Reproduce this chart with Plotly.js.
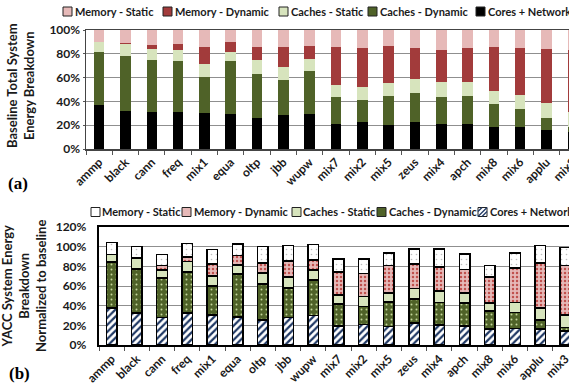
<!DOCTYPE html>
<html>
<head>
<meta charset="utf-8">
<script src="https://cdn.plot.ly/plotly-3.0.1.min.js"></script>
<style>
  html, body { margin: 0; padding: 0; overflow: hidden; background: #fff; }
  #chart { width: 600px; height: 390px; }
</style>
</head>
<body>
<div id="chart"></div>
<script>
// Workloads on the category axis
const benchmarks = ['ammp','black','cann','freq','mix1','equa','oltp','jbb','wupw','mix7','mix2','mix5','zeus','mix4','apch','mix8','mix6','applu','mix3'];

// Series names, bottom of the stack first
const seriesNames = ['Cores + Network','Caches - Dynamic','Caches - Static','Memory - Dynamic','Memory - Static'];

// (a) Baseline breakdown, % of total system energy
const baseCores    = [37.0,31.9,31.4,31.4,30.5,29.4,25.8,28.9,29.4,21.0,23.0,20.4,23.0,21.0,21.0,18.8,18.2,16.0,14.6];
const baseCacheDyn = [44.2,46.5,43.1,42.6,30.3,44.6,37.5,29.4,36.4,22.4,18.2,24.1,23.8,22.7,23.3,18.7,15.7,10.0,3.6];
const baseCacheSta = [8.4,9.6,9.5,9.2,10.9,7.2,11.5,10.9,9.6,10.4,11.2,10.7,11.7,12.9,11.7,11.0,11.5,12.4,12.6];
const baseMemDyn   = [0.3,0.8,3.1,5.0,14.3,8.4,10.6,16.2,11.2,32.2,32.2,31.4,26.1,26.3,28.6,37.2,39.2,45.6,52.1];
const baseMemSta   = [10.1,11.2,12.9,11.8,14.0,10.4,14.6,14.6,13.4,14.0,15.4,13.4,15.4,17.1,15.4,14.3,15.4,16.0,17.1];

// (b) YACC breakdown, % of the baseline total
const yaccCores    = [37.4,32.3,28.2,32.3,30.6,28.6,25.5,28.2,29.9,19.4,20.7,19.0,22.4,20.4,19.4,16.3,17.0,16.3,14.3];
const yaccCacheDyn = [46.9,45.2,39.8,41.8,29.2,43.5,36.4,29.6,36.0,22.4,18.7,24.5,24.2,22.8,23.4,18.4,16.3,8.9,3.4];
const yaccCacheSta = [7.5,10.9,8.5,10.9,10.2,9.5,11.2,11.4,10.2,9.2,9.9,9.2,10.8,11.9,9.9,8.1,9.9,12.2,12.9];
const yaccMemDyn   = [0.2,0.7,4.1,4.7,12.3,9.2,10.2,16.1,10.2,23.4,23.4,27.9,24.9,24.1,24.1,26.5,35.0,45.9,50.3];
const yaccMemSta   = [12.3,11.2,11.5,13.6,14.6,11.9,17.0,16.0,15.7,13.3,15.0,12.9,15.3,18.4,15.7,11.6,15.3,18.0,18.4];

const yTicksA = [0, 20, 40, 60, 80, 100];
const yTicksB = [0, 20, 40, 60, 80, 100, 120];
const pct = v => v + '%';

const baseSeries = [baseCores, baseCacheDyn, baseCacheSta, baseMemDyn, baseMemSta];
const yaccSeries = [yaccCores, yaccCacheDyn, yaccCacheSta, yaccMemDyn, yaccMemSta];

// Solid fills for the baseline panel
const solidColors = ['#000000', '#4f6228', '#d7e4bd', '#a23b3b', '#e6b9b8'];

// Patterned fills for the YACC panel
const yaccMarkers = [
  { color: '#ffffff', pattern: { shape: '/', fgcolor: '#1f3864', bgcolor: '#ffffff', size: 5, solidity: 0.45 } },
  { color: '#4f6228', pattern: { shape: '.', fgcolor: '#c3d69b', bgcolor: '#4f6228', size: 5, solidity: 0.12 } },
  { color: '#d7e4bd' },
  { color: '#e6b9b8', pattern: { shape: '.', fgcolor: '#c0504d', bgcolor: '#e6b9b8', size: 4, solidity: 0.3 } },
  { color: '#ffffff', pattern: { shape: '.', fgcolor: '#bdbdbd', bgcolor: '#ffffff', size: 5, solidity: 0.08 } }
];

const mkFont = (size) => ({ family: 'Lato, "Open Sans", sans-serif', size: size, color: '#1a1a1a', weight: 'bold' });

const traces = [];
seriesNames.forEach((name, i) => {
  traces.push({
    type: 'bar', name: name, x: benchmarks, y: baseSeries[i],
    xaxis: 'x', yaxis: 'y', width: 0.4,
    marker: { color: solidColors[i], line: { width: 0 } }, hoverinfo: 'skip'
  });
});
seriesNames.forEach((name, i) => {
  const mk = Object.assign({}, yaccMarkers[i], { line: { color: '#000000', width: 1.5 } });
  traces.push({
    type: 'bar', name: name, x: benchmarks, y: yaccSeries[i],
    xaxis: 'x2', yaxis: 'y2', width: 0.42,
    marker: mk, hoverinfo: 'skip'
  });
});

// Canvas is a little wider than the window, so the last column runs off the right edge
const W = 600, H = 390;
const px = v => v / W;
const py = v => 1 - v / H;

function xAxis(domain, anchor, lineColor, lineWidth) {
  return {
    type: 'category', tickangle: -45, ticks: 'outside', tickson: 'boundaries', ticklen: 4, tickcolor: '#555',
    showline: true, mirror: true, tickfont: mkFont(12), showgrid: false, range: [-0.5, benchmarks.length - 0.5],
    domain: domain, anchor: anchor, linecolor: lineColor, linewidth: lineWidth
  };
}

// Legend rows: keys and labels laid out left to right (top-most stack segment first)
const legendOrder = [4, 3, 2, 1, 0];
const legendRows = [
  { cy: 11.5, keyX: [63, 163, 279, 368, 476], textX: [73, 173, 289, 378, 486],
    fills: legendOrder.map(i => solidColors[i]) },
  { cy: 212, keyX: [91, 182, 292, 377, 478], textX: [100, 192, 301, 387, 488],
    fills: legendOrder.map(i => yaccMarkers[i].color) }
];
const KEY = 9;

const shapes = [];
const annotations = [];
legendRows.forEach((row, r) => {
  legendOrder.forEach((si, k) => {
    const x0 = row.keyX[k], y0 = row.cy - KEY / 2;
    shapes.push({
      type: 'rect', xref: 'paper', yref: 'paper',
      x0: px(x0), x1: px(x0 + KEY), y0: py(y0 + KEY), y1: py(y0),
      fillcolor: row.fills[k], line: { color: '#222', width: 1 }
    });
    // hatched key for the patterned cores series
    if (r === 1 && si === 0) {
      [[0, 4, 4, 0], [0, KEY, KEY, 0], [4, KEY, KEY, 4]].forEach(([a, b, c, d]) => {
        shapes.push({
          type: 'line', xref: 'paper', yref: 'paper',
          x0: px(x0 + a), y0: py(y0 + b), x1: px(x0 + c), y1: py(y0 + d),
          line: { color: '#1f3864', width: 1.2 }
        });
      });
    }
    annotations.push({
      text: seriesNames[si], xref: 'paper', yref: 'paper', x: px(row.textX[k]), y: py(row.cy),
      xanchor: 'left', yanchor: 'middle', showarrow: false, font: mkFont(11)
    });
  });
});

annotations.push(
  { text: 'Baseline Total System<br>Energy Breakdown', xref: 'paper', yref: 'paper',
    x: px(20), y: py(86), xanchor: 'center', yanchor: 'middle',
    textangle: -90, showarrow: false, font: mkFont(13) },
  { text: 'YACC System Energy<br>Breakdown<br>Normalized to baseline', xref: 'paper', yref: 'paper',
    x: px(24), y: py(286), xanchor: 'center', yanchor: 'middle',
    textangle: -90, showarrow: false, font: mkFont(13) },
  { text: '(a)', xref: 'paper', yref: 'paper', x: px(18), y: py(183), xanchor: 'center', yanchor: 'middle',
    showarrow: false, font: { family: '"Liberation Serif", serif', size: 17, color: '#000', weight: 'bold' } },
  { text: '(b)', xref: 'paper', yref: 'paper', x: px(19), y: py(373), xanchor: 'center', yanchor: 'middle',
    showarrow: false, font: { family: '"Liberation Serif", serif', size: 17, color: '#000', weight: 'bold' } }
);

const layout = {
  width: W, height: H,
  margin: { l: 0, r: 0, t: 0, b: 0, autoexpand: false },
  paper_bgcolor: '#ffffff', plot_bgcolor: '#ffffff',
  barmode: 'stack', font: mkFont(12), showlegend: false,
  xaxis: xAxis([px(86), px(586)], 'y', '#444', 1.5),
  yaxis: {
    domain: [py(149), py(30)], anchor: 'x', range: [0, 100],
    tickmode: 'array', tickvals: yTicksA, ticktext: yTicksA.map(pct),
    ticks: 'outside', ticklen: 2, tickcolor: '#555', showline: true, mirror: true,
    linecolor: '#444', linewidth: 1.5, showgrid: true, gridcolor: '#8f8f8f', gridwidth: 1,
    zeroline: false, tickfont: mkFont(12)
  },
  xaxis2: xAxis([px(99), px(578)], 'y2', '#000', 2.2),
  yaxis2: {
    domain: [py(345), py(227)], anchor: 'x2', range: [0, 120],
    tickmode: 'array', tickvals: yTicksB, ticktext: yTicksB.map(pct),
    ticks: 'outside', ticklen: 8, tickcolor: 'rgba(0,0,0,0)', showline: true, mirror: true,
    linecolor: '#000', linewidth: 2.2, showgrid: true, gridcolor: '#8f8f8f', gridwidth: 1,
    zeroline: false, tickfont: mkFont(12)
  },
  shapes: shapes,
  annotations: annotations
};

Plotly.newPlot('chart', traces, layout, { displayModeBar: false, staticPlot: true });
</script>
</body>
</html>
